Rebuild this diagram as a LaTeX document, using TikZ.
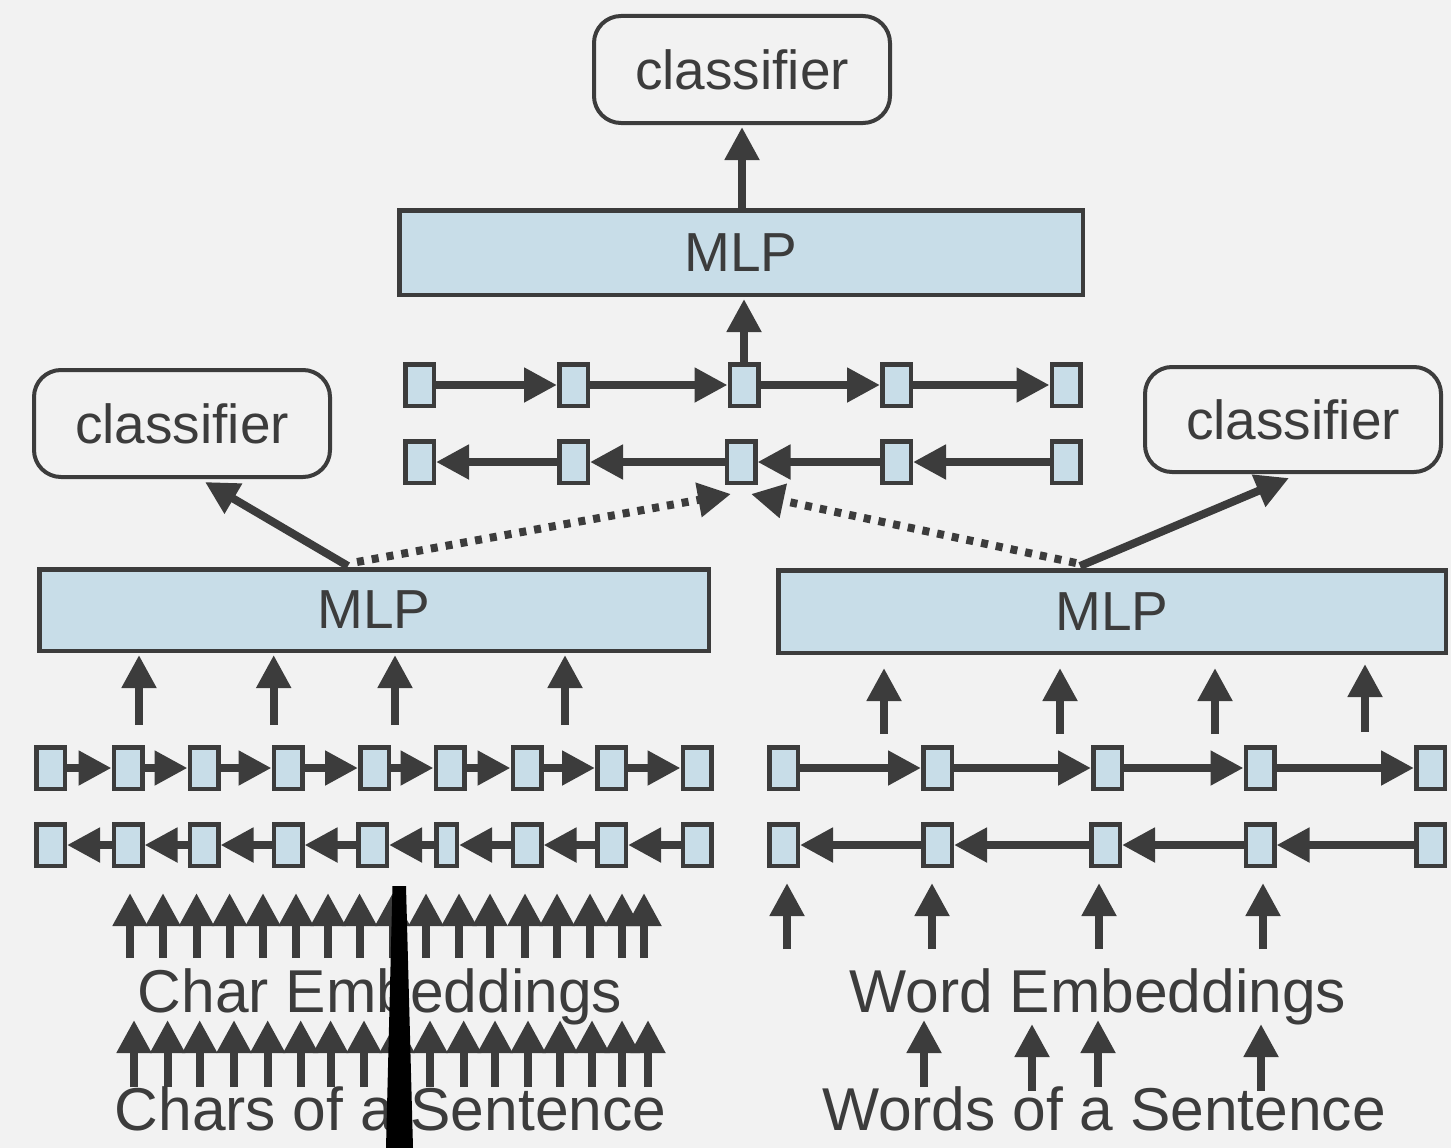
\documentclass[tikz,border=0pt]{standalone}
\usepackage{fontspec}
\setmainfont{Liberation Sans}
\usetikzlibrary{arrows.meta,calc}
\definecolor{bg}{HTML}{F2F2F2}
\definecolor{dk}{HTML}{3C3C3C}
\definecolor{lb}{HTML}{C8DDE8}
\newcommand\boxfont{\fontsize{55}{60}\selectfont}
\newcommand\lblfont{\fontsize{60.5}{66}\selectfont}
\begin{document}
\begin{tikzpicture}[x=1pt,y=-1pt,
  cell/.style={draw=dk, fill=lb, line width=4.5pt, minimum width=28.5pt,
    minimum height=41.5pt, inner sep=0pt},
  mlpbox/.style={draw=dk, fill=lb, line width=4.5pt, inner sep=0pt,
    font=\boxfont, text=dk},
  clsbox/.style={draw=dk, fill=bg, line width=4pt, rounded corners=27pt,
    inner sep=0pt, minimum width=296pt, font=\boxfont, text=dk},
  lbl/.style={anchor=base, inner sep=0pt, font=\lblfont, text=dk},
  arr/.style={draw=dk, line width=8pt, -{Triangle[length=33pt,width=33pt]}},
  dotline/.style={dash pattern=on 7pt off 8pt}]

% canvas
\fill[bg] (0,0) rectangle (1451,1148);
\useasboundingbox (0,0) rectangle (1451,1148);

% classifiers
\node[clsbox, minimum height=107pt] (tcls) at (742,69.5) {classifier};
\node[clsbox, minimum height=107pt] (lcls) at (182,423.5) {classifier};
\node[clsbox, minimum height=105pt] (rcls) at (1293,419.5) {classifier};

% MLPs
\node[mlpbox, minimum width=683.5pt, minimum height=84.5pt] (tmlp) at (741,252.5) {MLP};
\node[mlpbox, minimum width=669.5pt, minimum height=81.5pt] (lmlp) at (374,610) {MLP};
\node[mlpbox, minimum width=667.5pt, minimum height=82.5pt] (rmlp) at (1112,611.5) {MLP};

% sentence-level BiLSTM
\foreach \x [count=\i] in {419.5,573.5,744,896.5,1066}
  \node[cell] (tf\i) at (\x,385) {};
\foreach \x [count=\i] in {419.5,573.5,741,896.5,1066}
  \node[cell] (tb\i) at (\x,462) {};
\foreach \i [evaluate=\i as \j using int(\i+1)] in {1,...,4} {
  \draw[arr] (tf\i) -- (tf\j);
  \draw[arr] (tb\j) -- (tb\i);
}

% character-level BiLSTM
\foreach \x [count=\i] in {50.5,128,204,288,374.5,450,527,611.5,697}
  \node[cell] (lf\i) at (\x,768) {};
\foreach \x/\w [count=\i] in {50.5/28.5,128/28.5,204/28.5,288/28.5,372.5/28.5,
    446.5/20.5,527/28.5,611.5/28.5,697/28.5}
  \node[cell, minimum width=\w pt] (lb\i) at (\x,845) {};
\foreach \i [evaluate=\i as \j using int(\i+1)] in {1,...,8} {
  \draw[arr] (lf\i) -- (lf\j);
  \draw[arr] (lb\j) -- (lb\i);
}

% word-level BiLSTM
\foreach \x [count=\i] in {783.5,937.5,1107.5,1260,1430.5}
  \node[cell] (rf\i) at (\x,768) {};
\foreach \x [count=\i] in {783.5,937.5,1105.5,1260,1430.5}
  \node[cell] (rb\i) at (\x,845) {};
\foreach \i [evaluate=\i as \j using int(\i+1)] in {1,...,4} {
  \draw[arr] (rf\i) -- (rf\j);
  \draw[arr] (rb\j) -- (rb\i);
}

% top stack
\draw[arr, shorten >=2pt] (tf3.north) -- (tf3.north |- tmlp.south);
\draw[arr, shorten >=2pt] (tmlp.north -| tcls.south) -- (tcls.south);

% links from the two lower MLPs
\coordinate (lsolid) at (348,566);
\coordinate (ldot) at (357,562);
\coordinate (rsolid) at (1080,566);
\coordinate (rdot) at (1076,563);
\draw[arr] (lsolid) -- ($(lcls.south)+(23,3)$);
\draw[arr] (rsolid) -- ($(rcls.south)+(-4,4)$);
\draw[arr, dotline] (ldot) -- ($(tb3.south)+(-10,9)$);
\draw[arr, dotline] (rdot) -- ($(tb3.south)+(10,9)$);

% inputs of the left MLP
\foreach \x [count=\i] in {139,273.7,395,565} {
  \coordinate (lin\i) at (\x,725);
  \draw[arr, shorten >=2pt] (lin\i) -- (lin\i |- lmlp.south);
}

% inputs of the right MLP
\foreach \x/\t/\b [count=\i] in {884/668/734,1060/668/734,1215/668/734,1365/664/732} {
  \coordinate (rin\i) at (\x,\b);
  \coordinate (rout\i) at (\x,\t);
  \draw[arr] (rin\i) -- (rout\i);
}

% word embeddings into the word-level BiLSTM
\foreach \x [count=\i] in {787,932,1099,1263} {
  \coordinate (we\i) at (\x,949);
  \coordinate (wt\i) at (\x,883);
  \draw[arr] (we\i) -- (wt\i);
}

% labels
\node[lbl] (cemb) at (380,1012) {Char Embeddings};
\node[lbl] (csen) at (390.5,1130) {Chars of a Sentence};
\node[lbl] (wemb) at (1098,1012) {Word Embeddings};
\node[lbl] (wsen) at (1104,1130) {Words of a Sentence};

% char embeddings
\foreach \x [count=\i] in {130,163,196.5,229.6,263,296,328,359.5,392.6,426,459,490,525,557,590,622,644} {
  \coordinate (ce\i) at (\x,958);
  \coordinate (ct\i) at (\x,893);
  \draw[arr] (ce\i) -- (ct\i);
}
% chars of the sentence
\foreach \x [count=\i] in {134,167.6,199.7,234,267.7,300.7,330.6,364,397,430,463.7,495,528,560,592,622,648} {
  \coordinate (cs\i) at (\x,1087);
  \coordinate (cu\i) at (\x,1020);
  \draw[arr] (cs\i) -- (cu\i);
}

% words of the sentence
\foreach \x/\t/\b [count=\i] in {924/1020/1087,1032/1024/1091,1098/1020/1087,1261/1024/1091} {
  \coordinate (ws\i) at (\x,\b);
  \coordinate (wu\i) at (\x,\t);
  \draw[arr] (ws\i) -- (wu\i);
}

% black stroke
\fill[black] (392.5,886) -- (406,886) -- (413,1148) -- (386,1148) -- cycle;
\end{tikzpicture}
\end{document}
